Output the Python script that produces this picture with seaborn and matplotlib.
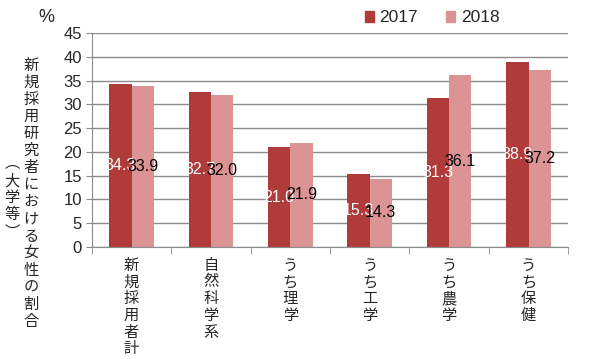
import matplotlib
matplotlib.use("Agg")
import matplotlib.pyplot as plt
import numpy as np
import pandas as pd
import seaborn as sns

categories = ["新規採用者計", "自然科学系", "うち理学", "うち工学", "うち農学", "うち保健"]
years = ["2017", "2018"]
v2017 = [34.3, 32.7, 21.0, 15.3, 31.3, 38.9]
v2018 = [33.9, 32.0, 21.9, 14.3, 36.1, 37.2]
ylabel_main = "新規採用研究者における女性の割合"
ylabel_sub = "︵大学等︶"

df = pd.DataFrame({
    "cat": categories * 2,
    "year": [years[0]] * 6 + [years[1]] * 6,
    "value": v2017 + v2018,
})

sns.set_style("white")
plt.rcParams["font.family"] = ["Liberation Sans", "Noto Sans CJK JP", "DejaVu Sans"]
jp = ["Noto Sans CJK JP", "DejaVu Sans"]

colors = {"2017": "#B03B3B", "2018": "#DC9393"}

W, H = 600, 359
fig = plt.figure(figsize=(W / 100, H / 100), dpi=100)
ax = fig.add_axes([0.153, 0.312, 0.794, 0.596])
sns.barplot(data=df, x="cat", y="value", hue="year", palette=colors,
            width=0.56, saturation=1, ax=ax, legend=False,
            edgecolor="none", linewidth=0)

ax.set_ylim(0, 45)
ax.set_xlim(-0.5, 5.5)
ax.set_yticks(np.arange(0, 46, 5))
ax.yaxis.grid(True, color="#8c8c8c", linewidth=1)
ax.set_axisbelow(True)
for s in ["top", "right"]:
    ax.spines[s].set_visible(False)
for s in ["left", "bottom"]:
    ax.spines[s].set_color("#8c8c8c")
ax.tick_params(axis="y", labelsize=12, length=4, color="#8c8c8c", left=True, pad=3)
ax.set_xticks(range(len(categories)))
ax.set_xticklabels(["\n".join(c) for c in categories], fontsize=11,
                   va="top", linespacing=0.98, family=jp)
ax.tick_params(axis="x", length=0, pad=7)
ax.set_xticks(np.arange(-0.5, 6, 1), minor=True)
ax.tick_params(axis="x", which="minor", length=5, color="#8c8c8c", bottom=True)
ax.set_xlabel("")
ax.set_ylabel("")

# data labels
for cont, col, vals in zip(ax.containers, ["white", "black"], [v2017, v2018]):
    for bar, v in zip(cont, vals):
        ax.text(bar.get_x() + bar.get_width() / 2, v / 2, f"{v:.1f}",
                ha="center", va="center", fontsize=11.5, color=col)

# y label: one character per line, stacked top to bottom
for i, ch in enumerate(ylabel_main):
    fig.text(31 / W, 1 - (65 + i * 17.1) / H, ch, ha="center", va="center",
             fontsize=11, family=jp)
for ch, py in zip(ylabel_sub, [163, 181, 197, 214, 232]):
    fig.text(12 / W, 1 - py / H, ch, ha="center", va="center",
             fontsize=11, family=jp)
fig.text(0.078, 0.95, "%", ha="center", va="center", fontsize=13)

# legend
handles = [plt.Rectangle((0, 0), 1, 1, color=colors[y]) for y in years]
fig.legend(handles, years, loc="center", bbox_to_anchor=(0.72, 0.95), ncol=2,
           frameon=False, fontsize=12.5, handlelength=0.55, handleheight=0.55,
           columnspacing=1.6, handletextpad=0.3)

fig.savefig("out.png", dpi=100)
